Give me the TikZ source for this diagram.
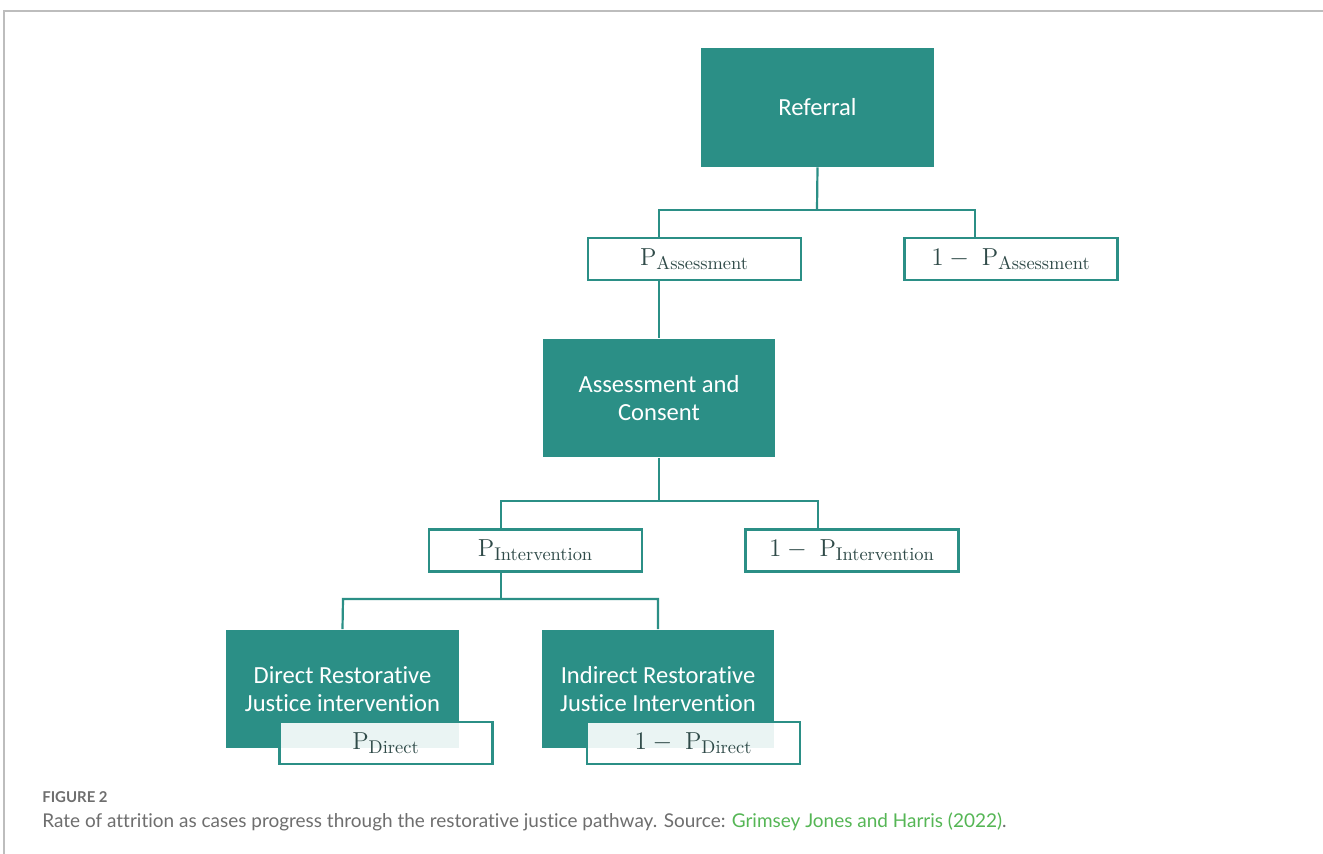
\documentclass[tikz,border=0pt]{standalone}
\usepackage{fontspec}
\usepackage{tikz}
\usetikzlibrary{positioning}
\newfontfamily\stagefont[RawFeature={-liga;-clig;-calt;-rlig;-dlig}]{Carlito}
\newfontfamily\capfont[RawFeature={-liga;-clig;-calt;-rlig;-dlig}]{Lato}
\definecolor{teal}{HTML}{2B8F86}
\definecolor{probink}{HTML}{2F4A48}
\definecolor{framegray}{HTML}{BDBDBD}
\definecolor{capgray}{HTML}{6E6E6E}
\definecolor{srcgreen}{HTML}{55B655}
\newcommand{\subtxt}[1]{\mbox{\fontsize{10.5}{12}\selectfont #1}}
\tikzset{
  stage/.style ={fill=teal,draw=none,text=white,minimum width=4.66cm,
                 minimum height=2.38cm,align=center,inner sep=2pt,
                 font=\stagefont\fontsize{14}{16}\selectfont},
  prob/.style  ={draw=teal,line width=1.25pt,fill=white,text=probink,
                 minimum width=4.26cm,minimum height=0.84cm,inner sep=2pt,
                 font=\fontsize{14}{16}\selectfont},
  probover/.style={prob,fill opacity=0.9,text opacity=1},
  link/.style  ={draw=teal,line width=1.25pt},
  frame/.style ={draw=framegray,line width=0.9pt}
}

\begin{document}
\begin{tikzpicture}[x=0.02cm,y=-0.02cm]
  \useasboundingbox[fill=white] (0,0) rectangle (1323,854);
  \draw[frame] (1323,11) -- (4,11) -- (4,854);
  % split points of the tree
  \coordinate (s1)  at (817,210);
  \coordinate (s1l) at (659,210);
  \coordinate (s1r) at (975,210);
  \coordinate (s2)  at (659,501);
  \coordinate (s2l) at (501,501);
  \coordinate (s2r) at (818,501);
  \coordinate (s3)  at (501,599);
  \coordinate (s3l) at (343,599);
  \coordinate (s3r) at (658,599);
  % stages
  \node[stage] (ref) at (817.5,107.5) {Referral};
  \node[stage] (ac)  at (659,398) {Assessment and\\Consent};
  \node[stage] (dir) at (342.5,689) {Direct Restorative\\Justice intervention};
  \node[stage] (ind) at (658,689) {Indirect Restorative\\Justice Intervention};
  % probabilities
  \node[prob] (pa)  at (694.5,259) {$\mathrm{P}_{\subtxt{Assessment}}$};
  \node[prob] (npa) at (1011,259) {$1-\;\mathrm{P}_{\subtxt{Assessment}}$};
  \node[prob] (pi)  at (535.5,550.5) {$\mathrm{P}_{\subtxt{Intervention}}$};
  \node[prob] (npi) at (852,550.5) {$1-\;\mathrm{P}_{\subtxt{Intervention}}$};
  \node[probover] (pd)  at (386,743) {$\mathrm{P}_{\subtxt{Direct}}$};
  \node[probover] (npd) at (693.5,743) {$1-\;\mathrm{P}_{\subtxt{Direct}}$};
  % connectors
  \draw[link] (ref.south) -- (s1);
  \draw[link] (s1l |- pa.north) -- (s1l) -- (s1r) -- (s1r |- npa.north);
  \draw[link] (pa.south -| ac.north) -- (ac.north);
  \draw[link] (ac.south) -- (s2);
  \draw[link] (s2l |- pi.north) -- (s2l) -- (s2r) -- (s2r |- npi.north);
  \draw[link] (pi.south -| s3) -- (s3);
  \draw[link] (dir.north) -- (s3l) -- (s3r) -- (ind.north);
  % caption
  \node[anchor=west,inner sep=0pt,text=capgray,font=\capfont\bfseries\fontsize{8.5}{10}\selectfont]
    (fig) at (42,797) {FIGURE 2};
  \node[anchor=west,inner sep=0pt,text=capgray,font=\capfont\fontsize{10.8}{12}\selectfont]
    (cap) at (42,822) {Rate of attrition as cases progress through the restorative justice pathway. Source: \textcolor{srcgreen}{Grimsey Jones and Harris (2022)}.};
\end{tikzpicture}
\end{document}
